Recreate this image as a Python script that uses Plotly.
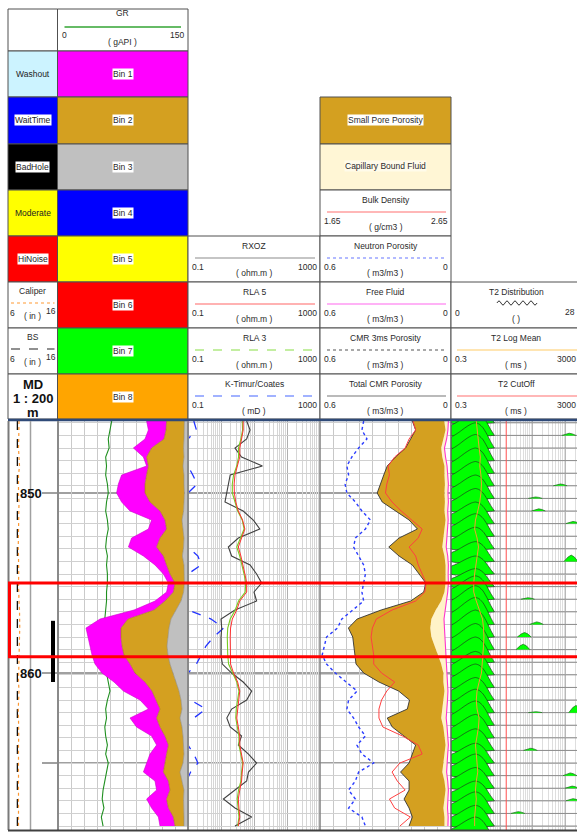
import math
import plotly.graph_objects as go

# ---------------- data ----------------
DEPTH = [846.0, 846.5, 847.0, 847.5, 848.0, 848.5, 849.0, 849.5, 850.0, 850.5,
         851.0, 851.5, 852.0, 852.5, 853.0, 853.5, 854.0, 854.5, 855.0, 855.5,
         856.0, 856.5, 857.0, 857.5, 858.0, 858.5, 859.0, 859.5, 860.0, 860.5,
         861.0, 861.5, 862.0, 862.5, 863.0, 863.5, 864.0, 864.5, 865.0, 865.5,
         866.0, 866.5, 867.0, 867.5, 868.0, 868.5]

GR = [62, 60, 58, 59, 55, 56, 55, 57, 58, 56, 55, 57, 58, 56, 55, 57, 56, 57, 57, 56,
      56, 55, 54, 53, 51, 52, 51, 53, 56, 58, 60, 57, 55, 56, 54, 55, 57, 55, 58, 56,
      54, 52, 51, 53, 50, 52]

CALI = [8.2, 8.1, 8.15, 8.1, 8.2, 8.3, 8.1, 8.05, 8.1, 8.2, 8.15, 8.1, 8.2, 8.1, 8.05, 8.1,
        8.2, 8.15, 8.1, 8.1, 8.2, 8.3, 8.4, 8.35, 8.3, 8.25, 8.2, 8.15, 8.1, 8.1, 8.2, 8.1,
        8.05, 8.1, 8.2, 8.15, 8.1, 8.1, 8.2, 8.1, 8.15, 8.1, 8.2, 8.1, 8.05, 8.1]
BS_IN = 7.875

# cumulative NMR bins (left edge of magenta / gold / grey fills)
BIN_TOTAL = [0.207, 0.198, 0.215, 0.273, 0.223, 0.207, 0.332, 0.348, 0.357, 0.332,
             0.290, 0.182, 0.198, 0.282, 0.298, 0.223, 0.165, 0.123, 0.098, 0.107,
             0.165, 0.270, 0.440, 0.510, 0.500, 0.490, 0.480, 0.465, 0.430, 0.370,
             0.323, 0.240, 0.198, 0.290, 0.257, 0.182, 0.157, 0.190, 0.207, 0.223,
             0.165, 0.157, 0.207, 0.182, 0.148, 0.140]
BIN_GOLD = [0.107, 0.110, 0.120, 0.182, 0.207, 0.198, 0.207, 0.215, 0.215, 0.190,
            0.140, 0.115, 0.107, 0.140, 0.157, 0.123, 0.107, 0.090, 0.065, 0.073,
            0.115, 0.170, 0.300, 0.335, 0.335, 0.330, 0.320, 0.290, 0.265, 0.215,
            0.180, 0.160, 0.140, 0.157, 0.140, 0.115, 0.098, 0.107, 0.115, 0.123,
            0.098, 0.090, 0.107, 0.098, 0.073, 0.065]
BIN_GRAY = [0.018, 0.018, 0.020, 0.022, 0.020, 0.025, 0.020, 0.020, 0.018, 0.020,
            0.022, 0.030, 0.025, 0.020, 0.022, 0.028, 0.020, 0.020, 0.018, 0.022,
            0.035, 0.060, 0.085, 0.095, 0.100, 0.105, 0.100, 0.090, 0.075, 0.060,
            0.045, 0.035, 0.030, 0.040, 0.030, 0.025, 0.022, 0.020, 0.025, 0.040,
            0.030, 0.020, 0.022, 0.020, 0.020, 0.020]

RXOZ = [6.0, 7.6, 6.0, 2.65, 4.2, 18, 1.9, 1.67, 1.5, 1.32, 4.7, 9.5, 15, 3.35, 1.67, 2.1,
        7.6, 12, 17, 10, 12, 2.65, 1.0, 1.05, 1.0, 1.0, 1.0, 1.1, 2.1, 4.7, 8.5, 6.0, 2.1,
        1.5, 1.9, 4.2, 3.35, 6.8, 12, 6.8, 6.0, 2.65, 1.18, 2.65, 8.5, 2.65]
RLA5 = [4.7, 4.7, 4.2, 3.7, 3.7, 3.2, 2.65, 2.5, 2.54, 2.8, 3.35, 4.5, 5.3, 4.2, 3.35, 4.0,
        4.7, 5.3, 6.0, 6.0, 3.7, 3.0, 2.2, 1.95, 1.9, 1.9, 1.9, 1.95, 2.4, 3.2, 3.7, 3.5,
        3.2, 3.0, 3.35, 3.7, 3.7, 4.2, 4.7, 4.4, 4.2, 3.7, 3.35, 3.5, 3.7, 3.35]
RLA3 = [4.4, 4.5, 4.0, 3.4, 3.4, 3.0, 2.4, 2.2, 2.2, 2.6, 3.2, 4.4, 5.0, 3.9, 3.0, 3.7,
        4.4, 5.0, 5.6, 5.4, 3.4, 2.7, 1.9, 1.6, 1.55, 1.55, 1.6, 1.7, 2.2, 3.0, 3.5, 3.2,
        2.9, 2.8, 3.1, 3.5, 3.5, 4.0, 4.5, 4.2, 4.0, 3.4, 3.1, 3.3, 3.5, 3.2]
KTIM = [0.15, 0.18, 0.10, 0.09, 0.09, 0.10, 0.14, 0.19, 0.10, 0.09, 0.09, 0.09, 0.09, 0.09,
        0.10, 0.20, 0.25, 0.10, 0.09, 0.09, 0.09, 0.10, 0.50, 1.20, 0.60, 0.35, 0.25, 0.18,
        0.10, 0.09, 0.09, 0.12, 0.35, 0.15, 0.09, 0.09, 0.10, 0.15, 0.20, 0.12, 0.09, 0.09,
        0.10, 0.09, 0.09, 0.09]

NPHI = [0.400, 0.408, 0.385, 0.423, 0.454, 0.477, 0.469, 0.485, 0.477, 0.438, 0.408, 0.369,
        0.392, 0.438, 0.446, 0.423, 0.400, 0.392, 0.400, 0.408, 0.400, 0.450, 0.500, 0.520,
        0.570, 0.580, 0.590, 0.570, 0.530, 0.480, 0.430, 0.469, 0.477, 0.446, 0.423, 0.392,
        0.431, 0.408, 0.354, 0.423, 0.438, 0.469, 0.438, 0.469, 0.408, 0.392]
RHOB = [2.36, 2.38, 2.33, 2.30, 2.22, 2.17, 2.18, 2.16, 2.15, 2.20, 2.27, 2.35, 2.43, 2.40,
        2.33, 2.38, 2.40, 2.43, 2.46, 2.45, 2.38, 2.20, 2.08, 2.05, 2.04, 2.05, 2.06, 2.06,
        2.12, 2.22, 2.16, 2.12, 2.10, 2.10, 2.13, 2.28, 2.40, 2.43, 2.26, 2.20, 2.24, 2.30,
        2.18, 2.22, 2.34, 2.26]
TCMR = [0.177, 0.162, 0.185, 0.208, 0.254, 0.292, 0.308, 0.323, 0.338, 0.315, 0.254, 0.192,
        0.154, 0.238, 0.285, 0.238, 0.177, 0.146, 0.115, 0.125, 0.185, 0.320, 0.430, 0.470,
        0.450, 0.445, 0.440, 0.435, 0.400, 0.330, 0.240, 0.190, 0.200, 0.292, 0.269, 0.215,
        0.162, 0.177, 0.192, 0.231, 0.192, 0.192, 0.215, 0.192, 0.177, 0.192]
BFV = [0.031, 0.025, 0.035, 0.045, 0.040, 0.030, 0.030, 0.028, 0.030, 0.028, 0.030, 0.025,
       0.030, 0.035, 0.040, 0.030, 0.025, 0.025, 0.025, 0.030, 0.045, 0.070, 0.090, 0.095,
       0.090, 0.075, 0.060, 0.045, 0.035, 0.035, 0.030, 0.035, 0.040, 0.045, 0.035, 0.030,
       0.025, 0.030, 0.035, 0.040, 0.030, 0.025, 0.030, 0.035, 0.030, 0.030]
FFV = [0.012, 0.014, 0.020, 0.030, 0.025, 0.018, 0.015, 0.012, 0.014, 0.012, 0.015, 0.013,
       0.016, 0.020, 0.022, 0.015, 0.012, 0.013, 0.012, 0.015, 0.020, 0.028, 0.032, 0.030,
       0.028, 0.026, 0.025, 0.022, 0.020, 0.016, 0.014, 0.016, 0.020, 0.022, 0.018, 0.014,
       0.012, 0.015, 0.018, 0.020, 0.015, 0.012, 0.014, 0.016, 0.013, 0.014]

T2LM = [1.8, 1.9, 2.0, 2.2, 2.4, 2.3, 2.5, 2.6, 2.5, 2.3, 2.0, 1.7, 1.6, 1.9, 2.1, 1.9,
        1.7, 1.6, 1.5, 1.5, 1.8, 2.3, 2.8, 3.0, 3.1, 3.0, 2.9, 2.8, 2.6, 2.2, 1.9, 1.8,
        1.9, 2.2, 2.1, 1.9, 1.7, 1.8, 1.9, 2.0, 1.8, 1.7, 1.8, 1.7, 1.6, 1.6]
T2_CUTOFF_MS = 15

T2_LEVELS = [846.1, 846.8, 847.5, 848.2, 848.9, 849.6, 850.3, 851.0, 851.7, 852.4,
             853.1, 853.8, 854.5, 855.2, 855.9, 856.6, 857.3, 858.0, 858.7, 859.4,
             860.1, 860.8, 861.5, 862.2, 862.9, 863.6, 864.3, 865.0, 865.7, 866.4,
             867.1, 867.8, 868.5, 869.2]
T2_AMP = [1.2, 1.3, 1.4, 1.45, 1.4, 1.35, 1.3, 1.25, 1.2, 1.25, 1.2, 1.1, 1.0, 1.0, 1.3,
          1.45, 1.5, 1.5, 1.45, 1.4, 1.3, 1.3, 1.25, 1.3, 1.35, 1.3, 1.2, 1.1, 1.2, 1.15,
          1.1, 1.2, 1.15, 1.2]
T2_BINS_MS = [0.3, 0.4, 0.55, 0.75, 1.0, 1.3, 1.7, 2.2, 2.9, 3.8, 5.0, 6.5]
T2_SHAPE = [0.42, 0.52, 0.64, 0.77, 0.88, 0.96, 1.0, 0.95, 0.8, 0.55, 0.25, 0.0]
T2_SMALL_LEVEL = [846.8, 849.6, 850.3, 851.0, 851.7, 853.8, 855.9, 857.3, 858.0, 858.7,
                  862.2, 862.2, 864.3, 865.7, 866.4, 867.1, 867.8]
T2_SMALL_MS = [1300, 700, 120, 150, 1700, 1500, 70, 130, 55, 50, 120, 2100, 85, 1400,
               1600, 1700, 35]
T2_SMALL_AMP = [0.12, 0.10, 0.08, 0.12, 0.12, 0.35, 0.08, 0.14, 0.25, 0.30, 0.05, 0.40,
                0.12, 0.15, 0.12, 0.12, 0.10]

THICK_DEPTHS = [850, 855, 860, 865]
DEPTH_LABELS = [850, 860]
RED_BOX = (855.0, 859.1)
CORE_BAR = (857.1, 860.5)

# ---------------- geometry helpers ----------------
W, H = 577, 833
TOP, BOT = 846.0, 868.72
Y_DOM = [1 - 830 / H, 1 - 421 / H]


def px(x):
    return x / W


def py(y):
    return 1 - y / H


FONT = "Liberation Sans, Arial, sans-serif"
shapes, annotations = [], []


def rect(x0, y0, x1, y1, fill="rgba(0,0,0,0)", line="#505050", lw=1):
    shapes.append(dict(type="rect", xref="paper", yref="paper", x0=px(x0), x1=px(x1),
                       y0=py(y1), y1=py(y0), fillcolor=fill,
                       line=dict(color=line, width=lw), layer="below"))


def seg(x0, y0, x1, y1, color="#505050", lw=1, dash="solid", layer="above"):
    shapes.append(dict(type="line", xref="paper", yref="paper", x0=px(x0), x1=px(x1),
                       y0=py(y0), y1=py(y1), line=dict(color=color, width=lw, dash=dash),
                       layer=layer))


def text(x, y, s, size=9, color="#2a2a2a", bg=None, anchor="center"):
    a = dict(xref="paper", yref="paper", x=px(x), y=py(y), text=s, showarrow=False,
             font=dict(family=FONT, size=size, color=color), xanchor=anchor,
             yanchor="middle", borderpad=0)
    if bg:
        a["bgcolor"] = bg
    annotations.append(a)


C0, C1, C2, C3, C4, C5 = 8, 57.5, 188, 320, 451, 582
R = [9, 51, 97, 144, 190, 236, 282, 328, 374, 419]

# ---- column 1
rect(C0, R[0], C1, R[1], "white")
flags = [("Washout", "#ccf3ff", None), ("WaitTime", "#0000ff", "white"),
         ("BadHole", "#000000", "white"), ("Moderate", "#ffff00", None),
         ("HiNoise", "#ff0000", "white")]
for i, (lab, col, bg) in enumerate(flags):
    rect(C0, R[i + 1], C1, R[i + 2], col)
    text((C0 + C1) / 2, (R[i + 1] + R[i + 2]) / 2, lab, size=8.5, color="#222", bg=bg)
for i, (lab, col, dash) in enumerate([("Caliper", "#ff9933", "dot"), ("BS", "#222222", "dash")]):
    y0 = R[6 + i]
    rect(C0, y0, C1, R[7 + i], "white")
    text((C0 + C1) / 2, y0 + 9, lab, size=8.5)
    seg(C0 + 3, y0 + 21, C1 - 3, y0 + 21, col, 1.2, dash)
    text(C0 + 0.5, y0 + 31, "6", size=8.5, anchor="left")
    text((C0 + C1) / 2, y0 + 34, "( in )", size=8.5)
    text(C1 - 1, y0 + 29, "16", size=8.5, anchor="right")
rect(C0, R[8], C1, R[9], "white")
text((C0 + C1) / 2, 384, "<b>MD</b>", size=13, color="#111")
text((C0 + C1) / 2, 398, "<b>1 : 200</b>", size=13, color="#111")
text((C0 + C1) / 2, 412, "<b>m</b>", size=13, color="#111")

# ---- column 2
rect(C1, R[0], C2, R[1], "white")
text((C1 + C2) / 2, 13, "GR", size=8.5)
seg(C1 + 7, 27, C2 - 7, 27, "#66bb66", 2)
text(C1 + 3, 35, "0", size=8.5, anchor="left")
text(C2 - 3, 35, "150", size=8.5, anchor="right")
text((C1 + C2) / 2, 42, "( gAPI )", size=8.5)
BIN_COLORS = ["#ff00ff", "#d4a020", "#c0c0c0", "#0000ff", "#ffff00", "#ff0000", "#00ff00", "#ffa500"]
for i, col in enumerate(BIN_COLORS):
    rect(C1, R[i + 1], C2, R[i + 2], col)
    text((C1 + C2) / 2, (R[i + 1] + R[i + 2]) / 2, "Bin %d" % (i + 1), size=8.5, bg="white")


def curve_cell(x0, x1, y0, y1, title, col, dash, lo, hi, unit, lw=1.2):
    rect(x0, y0, x1, y1, "white")
    mid = (x0 + x1) / 2
    text(mid, y0 + 10, title, size=8.5)
    seg(x0 + 7, y0 + 22, x1 - 5, y0 + 22, col, lw, dash)
    text(x0 + 3, y0 + 31, lo, size=8.5, anchor="left")
    text(x1 - 2, y0 + 31, hi, size=8.5, anchor="right")
    text(mid, y0 + 37, unit, size=8.5)


# ---- column 3
for i, (t, c, d, u) in enumerate([("RXOZ", "#8c8c8c", "solid", "( ohm.m )"),
                                   ("RLA 5", "#ff6666", "solid", "( ohm.m )"),
                                   ("RLA 3", "#88dd44", "dash", "( ohm.m )"),
                                   ("K-Timur/Coates", "#4466ff", "dash", "( mD )")]):
    curve_cell(C2, C3, R[5 + i], R[6 + i], t, c, d, "0.1", "1000", u)

# ---- column 4
rect(C3, R[2], C4, R[3], "#d4a020")
text((C3 + C4) / 2, 120, "Small Pore Porosity", size=8.5, bg="white")
rect(C3, R[3], C4, R[4], "#fff6d5")
text((C3 + C4) / 2, 166, "Capillary Bound Fluid", size=8.5, bg="#fffbea")
curve_cell(C3, C4, R[4], R[5], "Bulk Density", "#ff7070", "solid", "1.65", "2.65", "( g/cm3 )")
for i, (t, c, d) in enumerate([("Neutron Porosity", "#6677ff", "dot"),
                                ("Free Fluid", "#ff66ee", "solid"),
                                ("CMR 3ms Porosity", "#555555", "dot"),
                                ("Total CMR Porosity", "#777777", "solid")]):
    curve_cell(C3, C4, R[5 + i], R[6 + i], t, c, d, "0.6", "0", "( m3/m3 )")

# ---- column 5
rect(C4, R[6], C5, R[7], "white")
text(516, R[6] + 10, "T2 Distribution", size=8.5)
wave = "M %f,%f" % (px(497), py(R[6] + 21))
for k in range(10):
    xa = 497 + 4 * k
    cy = R[6] + 21 + (-4 if k % 2 == 0 else 4)
    wave += " Q %f,%f %f,%f" % (px(xa + 2), py(cy), px(xa + 4), py(R[6] + 21))
shapes.append(dict(type="path", xref="paper", yref="paper", path=wave,
                   line=dict(color="#333", width=1), layer="above"))
text(C4 + 3, R[6] + 31, "0", size=8.5, anchor="left")
text(516, R[6] + 37, "( )", size=8.5)
text(564, R[6] + 30, "28", size=8.5, anchor="left")
for i, (t, c) in enumerate([("T2 Log Mean", "#ffcc66"), ("T2 CutOff", "#ff7070")]):
    y0 = R[7 + i]
    rect(C4, y0, C5, R[8 + i], "white")
    text(516, y0 + 10, t, size=8.5)
    seg(C4 + 6, y0 + 22, C5, y0 + 22, c, 1.2)
    text(C4 + 3, y0 + 31, "0.3", size=8.5, anchor="left")
    text(556, y0 + 31, "3000", size=8.5, anchor="left")
    text(516, y0 + 37, "( ms )", size=8.5)

# ---- data area frame
seg(C0, 420, W, 420, "#2f4a78", 2.5)
for x, c, w in [(8.5, "#7a7a7a", 2), (30.5, "#a0a0a0", 1.5),
                (58, "#8a8a8a", 2), (188, "#8a8a8a", 2), (320, "#808080", 1.5),
                (451, "#606060", 1.5)]:
    seg(x, 421, x, 830, c, w)
seg(C0, 830.5, W, 830.5, "#404040", 2)

for d in THICK_DEPTHS:
    shapes.append(dict(type="line", xref="paper", yref="y", x0=px(42), x1=px(450), y0=d, y1=d,
                       line=dict(color="#a0a0a0", width=2), layer="below"))
for d in DEPTH_LABELS:
    annotations.append(dict(xref="paper", yref="y", x=px(30.5), y=d, text="<b>%d</b>" % d,
                            showarrow=False, font=dict(family=FONT, size=13, color="#111"),
                            xanchor="center", yanchor="middle"))
shapes.append(dict(type="line", xref="paper", yref="y", x0=px(53), x1=px(53),
                   y0=CORE_BAR[0], y1=CORE_BAR[1], line=dict(color="#000", width=4), layer="above"))
shapes.append(dict(type="rect", xref="paper", yref="y", x0=px(9.5), x1=px(600),
                   y0=RED_BOX[0], y1=RED_BOX[1], line=dict(color="#ff0000", width=3),
                   fillcolor="rgba(0,0,0,0)", layer="above"))

# ---------------- traces ----------------
fig = go.Figure()


def tr(x, y, xa, ya="y", **kw):
    fig.add_trace(go.Scatter(x=x, y=y, xaxis=xa, yaxis=ya, mode="lines", hoverinfo="skip", **kw))


# depth track
tr([BS_IN, BS_IN], [TOP, BOT], "x", "y2", line=dict(color="#111", width=1.3, dash="dash"))
tr(CALI, DEPTH, "x", "y2", line=dict(color="#ff9933", width=1.2, dash="dot"))

# GR track: bin fills + GR
tr([0.0 for _ in DEPTH], DEPTH, "x3", line=dict(width=0, color="rgba(0,0,0,0)"))
tr(BIN_GRAY, DEPTH, "x3", fill="tonextx", fillcolor="#c0c0c0", line=dict(color="#8a8a8a", width=0.6))
tr(BIN_GOLD, DEPTH, "x3", fill="tonextx", fillcolor="#d4a020", line=dict(color="#a07818", width=0.6))
tr(BIN_TOTAL, DEPTH, "x3", fill="tonextx", fillcolor="#ff00ff", line=dict(color="#cc00cc", width=0.6))
tr(GR, DEPTH, "x2", line=dict(color="#1f8f1f", width=1.1))

# resistivity track
tr(KTIM, DEPTH, "x4", line=dict(color="#2233ff", width=1.3, dash="dash"))
tr(RXOZ, DEPTH, "x4", line=dict(color="#404040", width=1.1))
tr(RLA3, DEPTH, "x4", line=dict(color="#77cc22", width=1.1))
tr(RLA5, DEPTH, "x4", line=dict(color="#ff3030", width=1.0))

# porosity track
tr(FFV, DEPTH, "x6", line=dict(width=0, color="rgba(0,0,0,0)"))
tr(BFV, DEPTH, "x6", fill="tonextx", fillcolor="#fff3c8", line=dict(width=0, color="rgba(0,0,0,0)"))
tr(TCMR, DEPTH, "x6", fill="tonextx", fillcolor="#d4a020", line=dict(color="#333", width=0.9))
tr(FFV, DEPTH, "x6", line=dict(color="#ff33cc", width=1.1))
tr(NPHI, DEPTH, "x6", line=dict(color="#2a3cff", width=1.4, dash="dot"))
tr(RHOB, DEPTH, "x7", line=dict(color="#ff4040", width=1.0))

# T2 track
bx, by = [], []
for lev in T2_LEVELS:
    bx += [0.3, 3000, None]
    by += [lev, lev, None]
tr(bx, by, "x8", line=dict(color="#8c8c8c", width=1))
for lev, amp in zip(T2_LEVELS, T2_AMP):
    xs = T2_BINS_MS + [T2_BINS_MS[-1], T2_BINS_MS[0], T2_BINS_MS[0]]
    ys = [lev - amp * s for s in T2_SHAPE] + [lev, lev, lev - amp * T2_SHAPE[0]]
    tr(xs, ys, "x8", fill="toself", fillcolor="#00ff00",
       line=dict(color="#1e3a1e", width=0.7, shape="spline", smoothing=0.6))
BUMP_F = [0.6, 0.8, 1.0, 1.25, 1.6]
BUMP_H = [0.0, 0.7, 1.0, 0.7, 0.0]
for lev, c, amp in zip(T2_SMALL_LEVEL, T2_SMALL_MS, T2_SMALL_AMP):
    tr([c * f for f in BUMP_F], [lev - amp * h for h in BUMP_H], "x8", fill="toself",
       fillcolor="#00ff00", line=dict(color="#1a6a1a", width=0.7))
tr(T2LM, DEPTH, "x8", line=dict(color="#f0a030", width=1))
tr([T2_CUTOFF_MS, T2_CUTOFF_MS], [TOP, BOT], "x8", line=dict(color="#ff5050", width=1))


# ---------------- axes ----------------
def xax(a, b, **kw):
    d = dict(domain=[px(a), px(b)], showticklabels=False, ticks="", zeroline=False,
             showline=False, fixedrange=True)
    d.update(kw)
    return d


T2_LO = math.log10(0.3)
layout = dict(
    width=W, height=H, margin=dict(l=0, r=0, t=0, b=0, pad=0),
    paper_bgcolor="white", plot_bgcolor="rgba(0,0,0,0)", showlegend=False,
    xaxis=xax(8, 58, range=[6, 16], anchor="y2", showgrid=False),
    xaxis2=xax(58, 188, range=[0, 150], dtick=15, tick0=0, anchor="y",
               showgrid=True, gridcolor="#cacaca", gridwidth=1),
    xaxis3=xax(58, 188, range=[0.65, 0], overlaying="x2", anchor="y", showgrid=False),
    xaxis4=xax(188, 320, type="log", range=[-1, 3], dtick=1, anchor="y", showgrid=True,
               gridcolor="#b0b0b0", minor=dict(dtick="D1", showgrid=True, gridcolor="#d6d6d6", ticks="")),
    xaxis6=xax(320, 451, range=[0.6, 0], dtick=0.06, tick0=0, anchor="y", showgrid=True,
               gridcolor="#c8c8c8"),
    xaxis7=xax(320, 451, range=[1.65, 2.65], overlaying="x6", anchor="y", showgrid=False),
    xaxis8=xax(451, 577, type="log", range=[T2_LO, T2_LO + 4 * 126 / 130], dtick=1, anchor="y",
               showgrid=True, gridcolor="#b8b8b8",
               minor=dict(dtick="D1", showgrid=True, gridcolor="#dedede", ticks="")),
    yaxis=dict(domain=Y_DOM, range=[BOT, TOP], tickmode="array", tickvals=T2_LEVELS,
               showgrid=True, gridcolor="#d0d0d0", showticklabels=False, ticks="",
               zeroline=False, showline=False, fixedrange=True),
    yaxis2=dict(domain=Y_DOM, range=[BOT, TOP], anchor="x", showgrid=False,
                showticklabels=False, ticks="", zeroline=False, showline=False, fixedrange=True),
    shapes=shapes, annotations=annotations,
)
fig.update_layout(**layout)
fig.write_html("out.html")
